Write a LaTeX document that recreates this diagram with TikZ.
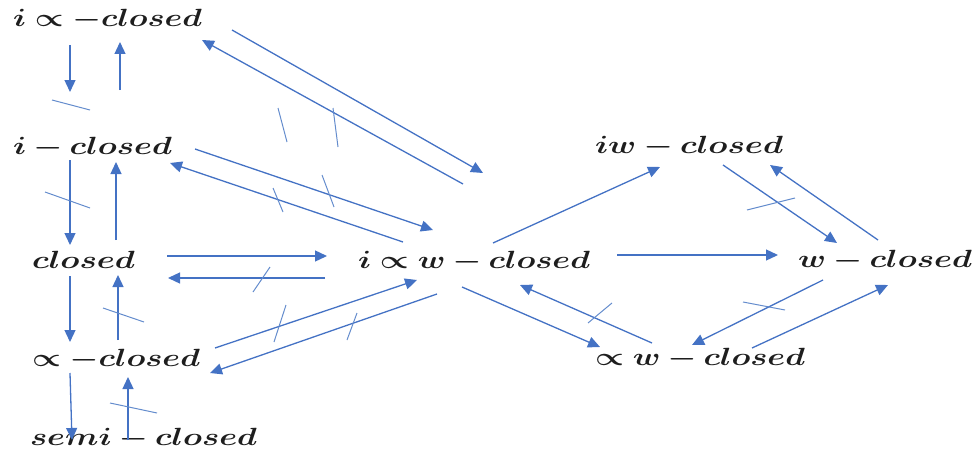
\documentclass[tikz,border=0pt]{standalone}
\usepackage{bm}
\usepackage{graphicx}
\usetikzlibrary{arrows.meta}
\definecolor{arrowblue}{RGB}{68,114,196}
\definecolor{slashblue}{RGB}{100,140,205}
\definecolor{txt}{RGB}{30,30,30}
\newcommand{\lbl}[2]{\resizebox{#1}{\height}{\fontsize{24}{28}\selectfont$\bm{#2}$}}
\tikzset{
  lab/.style={anchor=base west, inner sep=0pt, outer sep=0pt, text=txt},
  arr/.style={draw=arrowblue, line width=1.3pt, -{Triangle[length=12pt,width=11pt]}},
  neg/.style={draw=slashblue, line width=1pt},
}
\begin{document}
\begin{tikzpicture}[x=1pt,y=-1pt]
\useasboundingbox (0,0) rectangle (976,452);
% labels
\node[lab] (ipc)  at (13,27)   {\lbl{189pt}{i \propto -closed}};
\node[lab] (ic)   at (13,154)  {\lbl{159pt}{i - closed}};
\node[lab] (c)    at (32,268)  {\lbl{103pt}{closed}};
\node[lab] (pc)   at (32,366)  {\lbl{168pt}{\propto -closed}};
\node[lab] (sc)   at (30,445)  {\lbl{227pt}{semi - closed}};
\node[lab] (ipwc) at (358,268) {\lbl{232pt}{i \propto w - closed}};
\node[lab] (iwc)  at (595,153) {\lbl{188pt}{iw - closed}};
\node[lab] (wc)   at (798,267) {\lbl{174pt}{w - closed}};
\node[lab] (pwc)  at (595,365) {\lbl{210pt}{\propto w - closed}};
% arrow end points
\coordinate (a1s) at (70,45);   \coordinate (a1e) at (70,92);
\coordinate (a2s) at (120,90);  \coordinate (a2e) at (120,42);
\coordinate (a3s) at (70,160);  \coordinate (a3e) at (70,245);
\coordinate (a4s) at (116,240); \coordinate (a4e) at (116,162);
\coordinate (a5s) at (70,276);  \coordinate (a5e) at (70,342);
\coordinate (a6s) at (118,340); \coordinate (a6e) at (118,275);
\coordinate (a7s) at (70,373);  \coordinate (a7e) at (72,440);
\coordinate (a8s) at (128,440); \coordinate (a8e) at (128,377);
\coordinate (a9s) at (232,30);  \coordinate (a9e) at (483,173);
\coordinate (a10s) at (463,184); \coordinate (a10e) at (202,40);
\coordinate (a11s) at (195,149); \coordinate (a11e) at (433,230);
\coordinate (a12s) at (403,242); \coordinate (a12e) at (170,163);
\coordinate (a13s) at (167,256); \coordinate (a13e) at (327,256);
\coordinate (a14s) at (325,278); \coordinate (a14e) at (168,278);
\coordinate (a15s) at (215,348); \coordinate (a15e) at (417,280);
\coordinate (a16s) at (437,294); \coordinate (a16e) at (210,373);
\coordinate (a17s) at (493,243); \coordinate (a17e) at (660,167);
\coordinate (a18s) at (723,165); \coordinate (a18e) at (837,243);
\coordinate (a19s) at (878,240); \coordinate (a19e) at (770,165);
\coordinate (a20s) at (617,255); \coordinate (a20e) at (778,255);
\coordinate (a21s) at (462,287); \coordinate (a21e) at (600,347);
\coordinate (a22s) at (652,343); \coordinate (a22e) at (520,285);
\coordinate (a23s) at (823,280); \coordinate (a23e) at (692,345);
\coordinate (a24s) at (752,348); \coordinate (a24e) at (888,285);
\foreach \i in {1,...,24} { \draw[arr] (a\i s) -- (a\i e); }
% negation marks
\coordinate (n1s) at (52,100);  \coordinate (n1e) at (90,110);
\coordinate (n2s) at (45,192);  \coordinate (n2e) at (90,208);
\coordinate (n3s) at (103,308); \coordinate (n3e) at (144,322);
\coordinate (n4s) at (110,403); \coordinate (n4e) at (157,413);
\coordinate (n5s) at (278,108); \coordinate (n5e) at (287,142);
\coordinate (n6s) at (333,108); \coordinate (n6e) at (338,147);
\coordinate (n7s) at (273,188); \coordinate (n7e) at (283,212);
\coordinate (n8s) at (322,175); \coordinate (n8e) at (334,207);
\coordinate (n9s) at (253,292); \coordinate (n9e) at (270,267);
\coordinate (n10s) at (274,342); \coordinate (n10e) at (286,305);
\coordinate (n11s) at (347,340); \coordinate (n11e) at (357,313);
\coordinate (n12s) at (747,210); \coordinate (n12e) at (795,198);
\coordinate (n13s) at (588,323); \coordinate (n13e) at (612,303);
\coordinate (n14s) at (743,302); \coordinate (n14e) at (785,310);
\foreach \i in {1,...,14} { \draw[neg] (n\i s) -- (n\i e); }
\end{tikzpicture}
\end{document}
